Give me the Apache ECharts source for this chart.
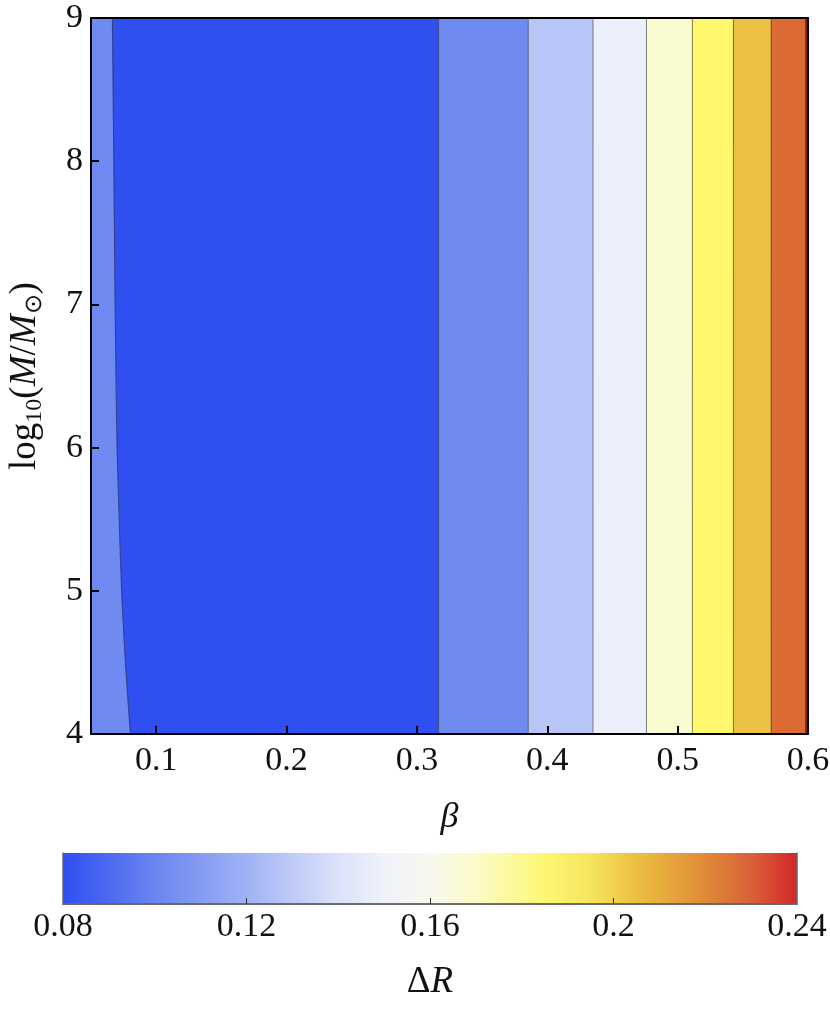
<!DOCTYPE html>
<html>
<head>
<meta charset="utf-8">
<script src="https://cdn.jsdelivr.net/npm/echarts@6/dist/echarts.min.js"></script>
<style>html,body{margin:0;padding:0;background:#fff;}#c{width:830px;height:1014px;}</style>
</head>
<body>
<div id="c"></div>
<script>
// ---- data ----
const betaRange = [0.05, 0.6];
const logMRange = [4, 9];
const xTicks = [0.1, 0.2, 0.3, 0.4, 0.5, 0.6];
const yTicks = [4, 5, 6, 7, 8, 9];
// left contour (Delta R = 0.10) : curved
const leftContourLogM = [4, 4.5, 5, 6, 7, 8, 9];
const leftContourBeta = [0.0802, 0.0764, 0.0735, 0.0700, 0.0685, 0.0675, 0.0664];
// vertical contours on the right side (levels 0.10 ... 0.24)
const contourLevels = [0.10, 0.12, 0.14, 0.16, 0.18, 0.20, 0.22, 0.24];
const contourBeta = [0.3166, 0.3854, 0.4351, 0.4761, 0.5113, 0.5428, 0.5718, 0.5982];
// fill colours: left band, dark band, then bands right of each contour
const leftBandColor = '#6f8af0';
const minBandColor = '#2f4ff0';
const rightBandColors = ['#6f8af0', '#b8c5f7', '#ecf0fc', '#fbfbd2', '#fdf86c', '#ebc043', '#dc6a35', '#9c1d1a'];
// colour bar
const cbarRange = [0.08, 0.24];
const cbarTicks = [0.08, 0.12, 0.16, 0.2, 0.24];
const cbarStopValues = [0.08, 0.10, 0.12, 0.14, 0.15, 0.16, 0.17, 0.185, 0.195, 0.205, 0.22, 0.23, 0.24];
const cbarStopColors = ['#2f4ff0', '#6a85f0', '#a0b2f5', '#dbe2f9', '#eff2fa', '#f7f8ee', '#fbfbc8', '#fcf873', '#f6e45e', '#ecc040', '#e08a38', '#d9613a', '#d4262a'];

// ---- build bands ----
const bands = [];
bands.push({
  pts: [[betaRange[0], logMRange[0]], [betaRange[0], logMRange[1]]]
    .concat(leftContourBeta.map((b, i) => [b, leftContourLogM[i]]).reverse()),
  color: leftBandColor
});
bands.push({
  pts: leftContourBeta.map((b, i) => [b, leftContourLogM[i]])
    .concat([[contourBeta[0], logMRange[1]], [contourBeta[0], logMRange[0]]]),
  color: minBandColor
});
for (let i = 0; i < contourBeta.length; i++) {
  const x0 = contourBeta[i];
  const x1 = i + 1 < contourBeta.length ? contourBeta[i + 1] : betaRange[1];
  bands.push({
    pts: [[x0, logMRange[0]], [x0, logMRange[1]], [x1, logMRange[1]], [x1, logMRange[0]]],
    color: rightBandColors[i]
  });
}

const serif = "'Liberation Serif', 'Times New Roman', Times, serif";
const lineCol = 'rgba(30,30,40,0.55)';

const chart = echarts.init(document.getElementById('c'), null, {renderer: 'canvas'});
const option = {
  backgroundColor: '#fff',
  animation: false,
  grid: [
    {left: 91, right: 22, top: 18, bottom: 280, outerBoundsMode: 'none', containLabel: false},
    {left: 63, right: 33, top: 853, height: 51, outerBoundsMode: 'none', containLabel: false}
  ],
  xAxis: [
    {
      gridIndex: 0, type: 'value', min: betaRange[0], max: betaRange[1], z: 10,
      name: 'β', nameLocation: 'middle', nameGap: 66,
      nameTextStyle: {fontFamily: serif, fontSize: 36, fontStyle: 'italic', color: '#111'},
      axisLine: {show: true, lineStyle: {color: '#000', width: 2}},
      axisTick: {show: true, inside: true, length: 8, customValues: xTicks, lineStyle: {color: '#000', width: 2}},
      axisLabel: {customValues: xTicks, margin: 10, fontFamily: serif, fontSize: 34, color: '#111',
        formatter: v => String(Math.round(v * 10) / 10)},
      splitLine: {show: false}
    },
    {
      gridIndex: 0, type: 'value', min: betaRange[0], max: betaRange[1], position: 'top', z: 10,
      axisLine: {show: true, lineStyle: {color: '#000', width: 2}},
      axisTick: {show: false}, axisLabel: {show: false}, splitLine: {show: false}
    },
    {
      gridIndex: 1, type: 'value', min: cbarRange[0], max: cbarRange[1], z: 10,
      name: '{a|Δ}{i|R}', nameLocation: 'middle', nameGap: 60,
      nameTextStyle: {rich: {
        a: {fontFamily: serif, fontSize: 37, color: '#111'},
        i: {fontFamily: serif, fontSize: 37, fontStyle: 'italic', color: '#111'}
      }},
      axisLine: {show: true, lineStyle: {color: '#666', width: 1.5}},
      axisTick: {show: true, inside: true, length: 6, customValues: cbarTicks.slice(1, -1), lineStyle: {color: '#333', width: 1}},
      axisLabel: {customValues: cbarTicks, margin: 6, fontFamily: serif, fontSize: 34, color: '#111',
        formatter: v => String(Math.round(v * 100) / 100)},
      splitLine: {show: false}
    },
    {
      gridIndex: 1, type: 'value', min: cbarRange[0], max: cbarRange[1], position: 'top', z: 10,
      axisLine: {show: true, lineStyle: {color: '#666', width: 1.5}},
      axisTick: {show: false}, axisLabel: {show: false}, splitLine: {show: false}
    }
  ],
  yAxis: [
    {
      gridIndex: 0, type: 'value', min: logMRange[0], max: logMRange[1], interval: 1, z: 10,
      name: '{a|log}{s|10}{a|(}{i|M}{a|/}{i|M}{s|⊙}{a|)}', nameLocation: 'middle', nameGap: 44, nameRotate: 90,
      nameTextStyle: {rich: {
        a: {fontFamily: serif, fontSize: 37, color: '#111', lineHeight: 44, verticalAlign: 'middle'},
        i: {fontFamily: serif, fontSize: 37, fontStyle: 'italic', color: '#111', lineHeight: 44, verticalAlign: 'middle'},
        s: {fontFamily: serif, fontSize: 24, color: '#111', lineHeight: 44, verticalAlign: 'bottom'}
      }},
      axisLine: {show: true, lineStyle: {color: '#000', width: 2}},
      axisTick: {show: true, inside: true, length: 8, customValues: yTicks, lineStyle: {color: '#000', width: 2}},
      axisLabel: {customValues: yTicks, margin: 8, fontFamily: serif, fontSize: 34, color: '#111'},
      splitLine: {show: false}
    },
    {
      gridIndex: 0, type: 'value', min: logMRange[0], max: logMRange[1], position: 'right', z: 10,
      axisLine: {show: true, lineStyle: {color: '#000', width: 2}},
      axisTick: {show: false}, axisLabel: {show: false}, splitLine: {show: false}
    },
    {
      gridIndex: 1, type: 'value', min: 0, max: 1, z: 10,
      axisLine: {show: true, lineStyle: {color: '#666', width: 1.5}},
      axisTick: {show: false}, axisLabel: {show: false}, splitLine: {show: false}
    },
    {
      gridIndex: 1, type: 'value', min: 0, max: 1, position: 'right', z: 10,
      axisLine: {show: true, lineStyle: {color: '#666', width: 1.5}},
      axisTick: {show: false}, axisLabel: {show: false}, splitLine: {show: false}
    }
  ],
  series: [
    {
      type: 'custom', xAxisIndex: 0, yAxisIndex: 0, clip: true,
      data: bands.map((b, i) => [i]),
      renderItem: (params, api) => {
        const b = bands[api.value(0)];
        return {
          type: 'polygon',
          shape: {points: b.pts.map(p => api.coord(p))},
          style: {fill: b.color, stroke: b.color, lineWidth: 0.5}
        };
      }
    },
    {
      type: 'custom', xAxisIndex: 0, yAxisIndex: 0, clip: true, z: 3,
      data: contourBeta.map((b, i) => [b, contourLevels[i]]),
      renderItem: (params, api) => {
        const p0 = api.coord([api.value(0), logMRange[0]]);
        const p1 = api.coord([api.value(0), logMRange[1]]);
        return {type: 'line', shape: {x1: p0[0], y1: p0[1], x2: p1[0], y2: p1[1]},
          style: {stroke: lineCol, lineWidth: 1}};
      }
    },
    {
      type: 'line', xAxisIndex: 0, yAxisIndex: 0, z: 3, symbol: 'none', smooth: 0.3,
      data: leftContourBeta.map((b, i) => [b, leftContourLogM[i]]),
      lineStyle: {color: lineCol, width: 1}
    },
    {
      type: 'custom', xAxisIndex: 2, yAxisIndex: 2, clip: true,
      data: [[cbarRange[0], cbarRange[1]]],
      renderItem: (params, api) => {
        const p0 = api.coord([api.value(0), 1]);
        const p1 = api.coord([api.value(1), 0]);
        const span = cbarRange[1] - cbarRange[0];
        const stops = cbarStopValues.map((v, i) => ({offset: (v - cbarRange[0]) / span, color: cbarStopColors[i]}));
        return {
          type: 'rect',
          shape: {x: p0[0], y: p0[1], width: p1[0] - p0[0], height: p1[1] - p0[1]},
          style: {fill: new echarts.graphic.LinearGradient(0, 0, 1, 0, stops)}
        };
      }
    }
  ]
};
chart.setOption(option);
</script>
</body>
</html>
